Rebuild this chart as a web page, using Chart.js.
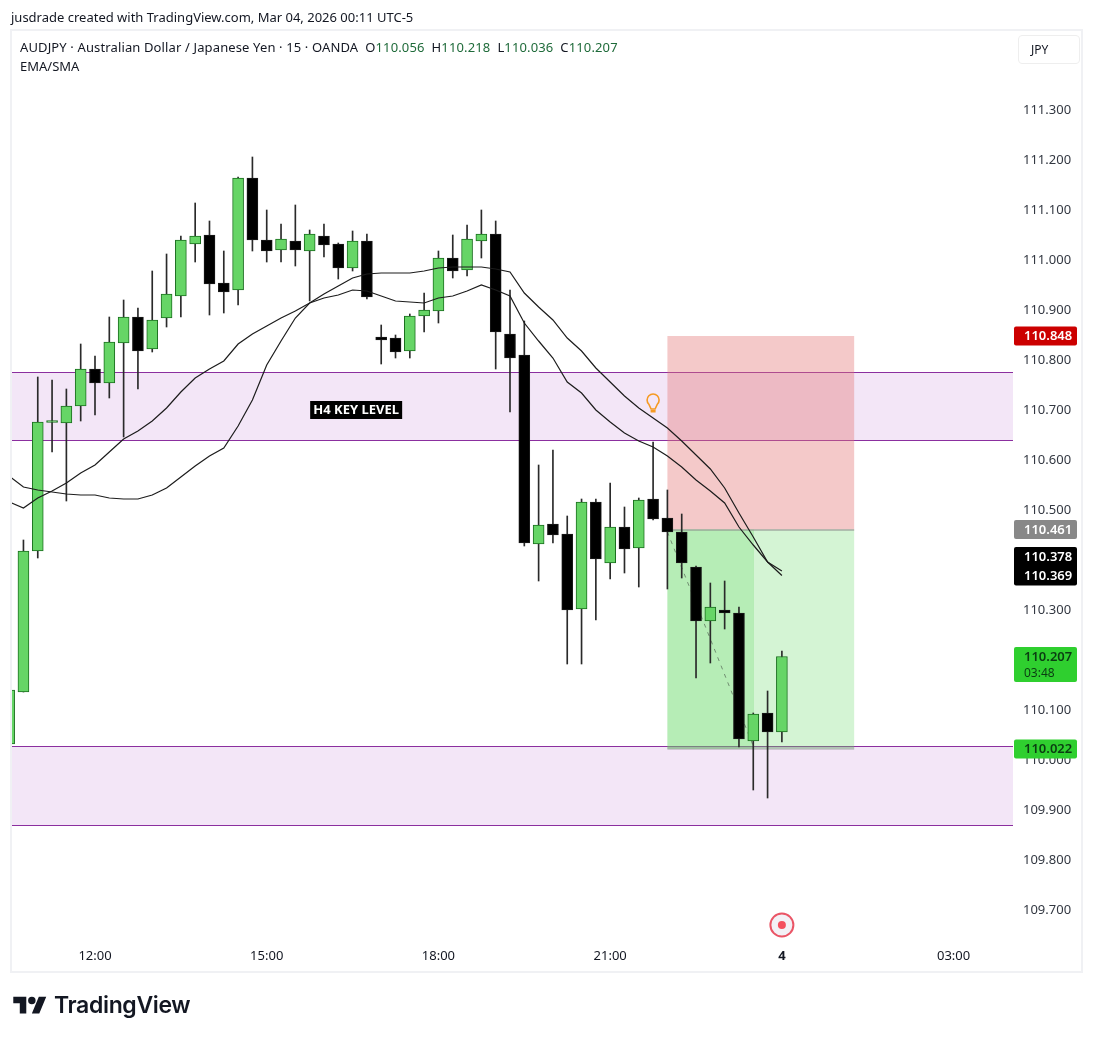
<!DOCTYPE html>
<html>
<head>
<meta charset="utf-8">
<title>AUDJPY 15</title>
<script src="https://cdn.jsdelivr.net/npm/chart.js@4/dist/chart.umd.min.js"></script>
<style>
body { margin: 0; background: #fff; font-family: "Noto Sans", sans-serif; color: #131722; }
#wrap { position: relative; width: 1093px; height: 1040px; overflow: hidden; }
canvas { position: absolute; left: 0; top: 0; }
.txt { position: absolute; white-space: pre; font-size: 13px; line-height: 16px; }
.up { color: #1f6b3a; }
#unit { position: absolute; left: 1018px; top: 35px; width: 60px; height: 27px; border: 1px solid #eeeeee; border-radius: 4px; font-size: 12px; line-height: 27px; text-indent: 12px; color: #131722; }
#logo { position: absolute; left: 13px; top: 993px; }
#logotext { position: absolute; left: 54px; top: 990px; font: 600 23px/30px Inter, sans-serif; letter-spacing: -0.35px; color: #131722; }
</style>
</head>
<body>
<div id="wrap">
<canvas id="myChart" width="1093" height="1040"></canvas>
<div class="txt" style="left:11px;top:9px">jusdrade created with TradingView.com, Mar 04, 2026 00:11 UTC-5</div>
<div class="txt" style="left:20px;top:39px;letter-spacing:0.13px">AUDJPY · Australian Dollar / Japanese Yen · 15 · OANDA  O<span class="up">110.056</span>  H<span class="up">110.218</span>  L<span class="up">110.036</span>  C<span class="up">110.207</span></div>
<div class="txt" style="left:20px;top:58px">EMA/SMA</div>
<div id="unit">JPY</div>
<svg id="logo" width="34" height="26" viewBox="0 0 36 28"><path fill="#131722" d="M14 22H7V11H0V4h14v18zM28 22h-8l7.5-18h8L28 22z"/><circle fill="#131722" cx="20" cy="8" r="4"/></svg>
<div id="logotext">TradingView</div>
</div>

<script>
// bar number 0 is the 12:00 candle, one step is 15 minutes
var barIndex = [-6,-5,-4,-3,-2,-1,0,1,2,3,4,5,6,7,8,9,10,11,12,13,14,15,16,17,18,19,20,21,22,23,24,25,26,27,28,29,30,31,32,33,34,35,36,37,38,39,40,41,42,43,44,45,46,47,48];

var opens = [110.032,110.136,110.418,110.675,110.674,110.708,110.782,110.754,110.834,110.886,110.822,110.884,110.928,111.032,111.050,110.954,110.940,111.164,111.040,111.020,111.038,111.018,111.048,111.032,110.984,111.038,110.846,110.844,110.818,110.888,110.898,111.004,110.980,111.038,111.052,110.852,110.810,110.432,110.472,110.452,110.302,110.516,110.394,110.466,110.424,110.522,110.484,110.456,110.386,110.278,110.300,110.294,110.038,110.094,110.056];
var highs = [110.140,110.440,110.766,110.760,110.742,110.832,110.808,110.886,110.920,110.904,110.978,111.012,111.048,111.114,111.078,111.018,111.166,111.206,111.100,111.072,111.110,111.060,111.072,111.034,111.058,111.052,110.870,110.850,110.892,110.934,111.018,111.050,111.070,111.100,111.078,110.940,110.878,110.590,110.620,110.488,110.522,110.522,110.554,110.506,110.524,110.636,110.540,110.492,110.388,110.354,110.358,110.306,110.094,110.138,110.218];
var lows = [110.032,110.136,110.404,110.616,110.518,110.678,110.690,110.724,110.646,110.742,110.816,110.866,110.886,110.996,110.890,110.894,110.910,111.018,110.996,110.996,110.988,110.918,111.006,110.962,110.978,110.922,110.792,110.804,110.804,110.856,110.874,110.964,110.968,111.004,110.782,110.696,110.428,110.358,110.434,110.192,110.192,110.280,110.362,110.374,110.346,110.480,110.342,110.364,110.164,110.194,110.262,110.026,109.940,109.924,110.036];
var closes = [110.140,110.418,110.676,110.676,110.708,110.782,110.754,110.836,110.886,110.818,110.880,110.932,111.040,111.048,110.952,110.936,111.164,111.040,111.018,111.042,111.020,111.052,111.030,110.984,111.038,110.926,110.840,110.816,110.888,110.900,111.004,110.978,111.042,111.052,110.856,110.804,110.434,110.470,110.450,110.300,110.516,110.402,110.466,110.422,110.520,110.482,110.456,110.394,110.278,110.306,110.294,110.042,110.092,110.056,110.207];

var emaLine = [110.568,110.546,110.540,110.536,110.532,110.530,110.530,110.524,110.522,110.522,110.530,110.544,110.566,110.588,110.608,110.624,110.668,110.720,110.790,110.838,110.884,110.914,110.932,110.948,110.964,110.972,110.974,110.974,110.974,110.978,110.984,110.986,110.986,110.986,110.982,110.976,110.934,110.906,110.880,110.844,110.818,110.784,110.756,110.728,110.704,110.684,110.664,110.638,110.610,110.582,110.544,110.494,110.446,110.396,110.369];
var smaLine = [110.516,110.504,110.524,110.538,110.554,110.574,110.590,110.616,110.642,110.658,110.678,110.704,110.736,110.764,110.782,110.798,110.832,110.852,110.868,110.884,110.898,110.914,110.924,110.930,110.940,110.938,110.928,110.918,110.916,110.914,110.924,110.928,110.938,110.950,110.940,110.928,110.874,110.838,110.804,110.756,110.734,110.700,110.676,110.654,110.638,110.626,110.608,110.586,110.560,110.538,110.514,110.466,110.430,110.396,110.378];

var priceTicks = [109.7,109.8,109.9,110.0,110.1,110.2,110.3,110.4,110.5,110.6,110.7,110.8,110.9,111.0,111.1,111.2,111.3];
var timeTicks = [0,12,24,36,48,60];
var timeLabels = ["12:00","15:00","18:00","21:00","4","03:00"];

var zoneTop = [110.776,110.640];
var zoneBottom = [110.028,109.870];
var stopPrice = 110.848, entryPrice = 110.461, targetPrice = 110.022;
var posStart = 40, posNow = 46.05, posEnd = 53.05;
var dashX = [40,46], dashY = [110.456,110.028];

var closeTime = "03:48";
var keyLevelText = "H4 KEY LEVEL", keyLevelBar = 18.25, keyLevelPrice = 110.70;
var bulbBar = 39, bulbPrice = 110.714;
var dotBar = 48, dotPrice = 109.67;

var FONT = '"Noto Sans", sans-serif';

function zip(xs, ys) {
    return xs.map(function (x, i) { return { x: x, y: ys[i] }; });
}

function tag(ctx, y1, y2, color) {
    ctx.fillStyle = color;
    ctx.beginPath();
    ctx.roundRect(1014, y1, 63, y2 - y1, 2);
    ctx.fill();
}

// boxes behind the candles
var zonesPlugin = {
    id: 'zones',
    beforeDatasetsDraw: function (chart) {
        var ctx = chart.ctx, xs = chart.scales.x, ys = chart.scales.y, a = chart.chartArea;
        ctx.save();
        [zoneTop, zoneBottom].forEach(function (z) {
            var t = Math.round(ys.getPixelForValue(z[0])), b = Math.round(ys.getPixelForValue(z[1]));
            ctx.fillStyle = '#f3e6f7';
            ctx.fillRect(a.left, t, a.right - a.left, b - t);
            ctx.fillStyle = '#8b2f9f';
            ctx.fillRect(a.left, t, a.right - a.left, 1);
            ctx.fillRect(a.left, b, a.right - a.left, 1);
        });
        var l = xs.getPixelForValue(posStart), n = xs.getPixelForValue(posNow), r = xs.getPixelForValue(posEnd);
        var st = ys.getPixelForValue(stopPrice), en = ys.getPixelForValue(entryPrice), tg = ys.getPixelForValue(targetPrice);
        ctx.fillStyle = 'rgba(228,120,120,0.4)';
        ctx.fillRect(l, st, r - l, en - st);
        ctx.fillStyle = 'rgba(112,218,112,0.3)';
        ctx.fillRect(l, en, r - l, tg - en);
        ctx.fillRect(l, en, n - l, tg - en);
        ctx.fillStyle = '#8a8a8a';
        ctx.fillRect(l, en, r - l, 1);
        ctx.fillStyle = 'rgba(120,120,120,0.3)';
        ctx.fillRect(l, tg - 3, r - l, 4);
        ctx.restore();
    }
};

// frame, axis tags and the small marks on top
var overlayPlugin = {
    id: 'overlay',
    afterDraw: function (chart) {
        var ctx = chart.ctx, xs = chart.scales.x, ys = chart.scales.y;
        ctx.save();

        ctx.strokeStyle = '#f0f1f4';
        ctx.lineWidth = 2;
        ctx.strokeRect(11, 30, 1071, 942);

        // H4 KEY LEVEL label
        var kx = xs.getPixelForValue(keyLevelBar), ky = ys.getPixelForValue(keyLevelPrice);
        ctx.fillStyle = '#000';
        ctx.fillRect(kx - 46, ky - 9, 92, 18);
        ctx.fillStyle = '#fff';
        ctx.font = 'bold 13px ' + FONT;
        ctx.textAlign = 'center';
        ctx.textBaseline = 'middle';
        ctx.fillText(keyLevelText, kx, ky + 0.5);

        // bulb
        var bx = xs.getPixelForValue(bulbBar), by = ys.getPixelForValue(bulbPrice);
        ctx.strokeStyle = '#f59a23';
        ctx.fillStyle = '#f59a23';
        ctx.lineWidth = 1.6;
        ctx.beginPath();
        ctx.arc(bx, by - 3, 6, Math.PI * 0.75, Math.PI * 0.25);
        ctx.lineTo(bx + 2, by + 6);
        ctx.lineTo(bx - 2, by + 6);
        ctx.closePath();
        ctx.stroke();
        ctx.fillRect(bx - 2.5, by + 7, 5, 2.5);

        // session dot
        var dx = xs.getPixelForValue(dotBar), dy = ys.getPixelForValue(dotPrice);
        ctx.fillStyle = '#f3f1f6';
        ctx.strokeStyle = '#ea5566';
        ctx.lineWidth = 2;
        ctx.beginPath();
        ctx.arc(dx, dy, 11.5, 0, Math.PI * 2);
        ctx.fill();
        ctx.stroke();
        ctx.fillStyle = '#f4505f';
        ctx.beginPath();
        ctx.arc(dx, dy, 4, 0, Math.PI * 2);
        ctx.fill();

        // price tags
        ctx.font = '600 13px ' + FONT;
        ctx.textAlign = 'left';
        var tagX = 1024;
        var y;

        y = ys.getPixelForValue(stopPrice);
        tag(ctx, y - 9.5, y + 9.5, '#cc0000');
        ctx.fillStyle = '#fff';
        ctx.fillText(stopPrice.toFixed(3), tagX, y + 0.5);

        y = ys.getPixelForValue(entryPrice);
        tag(ctx, y - 9.5, y + 9.5, '#888888');
        ctx.fillStyle = '#fff';
        ctx.fillText(entryPrice.toFixed(3), tagX, y + 0.5);

        var ema = emaLine[emaLine.length - 1], sma = smaLine[smaLine.length - 1];
        var ya = ys.getPixelForValue(sma), yb = ys.getPixelForValue(ema);
        tag(ctx, ya - 24, yb + 10, '#000000');
        ctx.fillStyle = '#fff';
        ctx.fillText(sma.toFixed(3), tagX, ya - 14);
        ctx.fillText(ema.toFixed(3), tagX, yb + 0.5);

        y = ys.getPixelForValue(closes[closes.length - 1]);
        tag(ctx, y - 9.5, y + 25.5, '#2fcf2f');
        ctx.fillStyle = '#0b3d12';
        ctx.fillText(closes[closes.length - 1].toFixed(3), tagX, y + 0.5);
        ctx.font = '12px ' + FONT;
        ctx.fillText(closeTime, tagX, y + 17);

        ctx.font = '600 13px ' + FONT;
        y = ys.getPixelForValue(targetPrice);
        tag(ctx, y - 9.5, y + 9.5, '#2fcf2f');
        ctx.fillStyle = '#0b3d12';
        ctx.fillText(targetPrice.toFixed(3), tagX, y + 0.5);

        ctx.restore();
    }
};

var wickData = barIndex.map(function (x, i) { return { x: x, y: [lows[i], highs[i]] }; });
var bodyData = barIndex.map(function (x, i) { return { x: x, y: [opens[i], closes[i]] }; });
var isUp = closes.map(function (c, i) { return c >= opens[i]; });

var chart = new Chart(document.getElementById('myChart').getContext('2d'), {
    type: 'bar',
    data: {
        datasets: [
            {
                type: 'line',
                label: 'Trade path',
                data: zip(dashX, dashY),
                borderColor: 'rgba(90,110,90,0.75)',
                borderWidth: 1,
                borderDash: [4, 5],
                pointRadius: 0,
                order: 4
            },
            {
                label: 'Wick',
                data: wickData,
                backgroundColor: '#2a2a2a',
                barThickness: 1,
                grouped: false,
                order: 3
            },
            {
                label: 'Body',
                data: bodyData,
                backgroundColor: isUp.map(function (u) { return u ? '#66d566' : '#000000'; }),
                borderColor: isUp.map(function (u) { return u ? '#1b6f1f' : '#1a1a1a'; }),
                borderWidth: 1,
                borderSkipped: false,
                barThickness: 11,
                minBarLength: 2,
                grouped: false,
                order: 2
            },
            {
                type: 'line',
                label: 'EMA',
                data: zip(barIndex, emaLine),
                borderColor: '#1c1c1c',
                borderWidth: 1.2,
                pointRadius: 0,
                order: 1
            },
            {
                type: 'line',
                label: 'SMA',
                data: zip(barIndex, smaLine),
                borderColor: '#1c1c1c',
                borderWidth: 1.2,
                pointRadius: 0,
                order: 1
            }
        ]
    },
    options: {
        responsive: false,
        animation: false,
        layout: { padding: { left: 12, right: 11, top: 31, bottom: 68 } },
        plugins: { legend: { display: false }, tooltip: { enabled: false } },
        scales: {
            x: {
                type: 'linear',
                offset: false,
                min: -5.8,
                max: 64.15,
                grid: { display: false, drawTicks: false, offset: false },
                border: { display: false },
                afterFit: function (s) { s.height = 32; },
                afterBuildTicks: function (s) { s.ticks = timeTicks.map(function (v) { return { value: v }; }); },
                ticks: {
                    autoSkip: false,
                    maxRotation: 0,
                    padding: 8,
                    color: '#131722',
                    font: function (c) {
                        var bold = c.tick && c.tick.value === 48;
                        return { family: FONT, size: 13, weight: bold ? '700' : '400' };
                    },
                    callback: function (v) { return timeLabels[timeTicks.indexOf(v)]; }
                }
            },
            y: {
                type: 'linear',
                position: 'right',
                min: 109.64,
                max: 111.458,
                grid: { display: false, drawTicks: false },
                border: { display: false },
                afterFit: function (s) { s.width = 69; },
                afterBuildTicks: function (s) { s.ticks = priceTicks.map(function (v) { return { value: v }; }); },
                ticks: {
                    padding: 10,
                    color: '#333842',
                    font: { family: FONT, size: 13 },
                    callback: function (v) { return v.toFixed(3); }
                }
            }
        }
    },
    plugins: [zonesPlugin, overlayPlugin]
});
</script>
</body>
</html>
